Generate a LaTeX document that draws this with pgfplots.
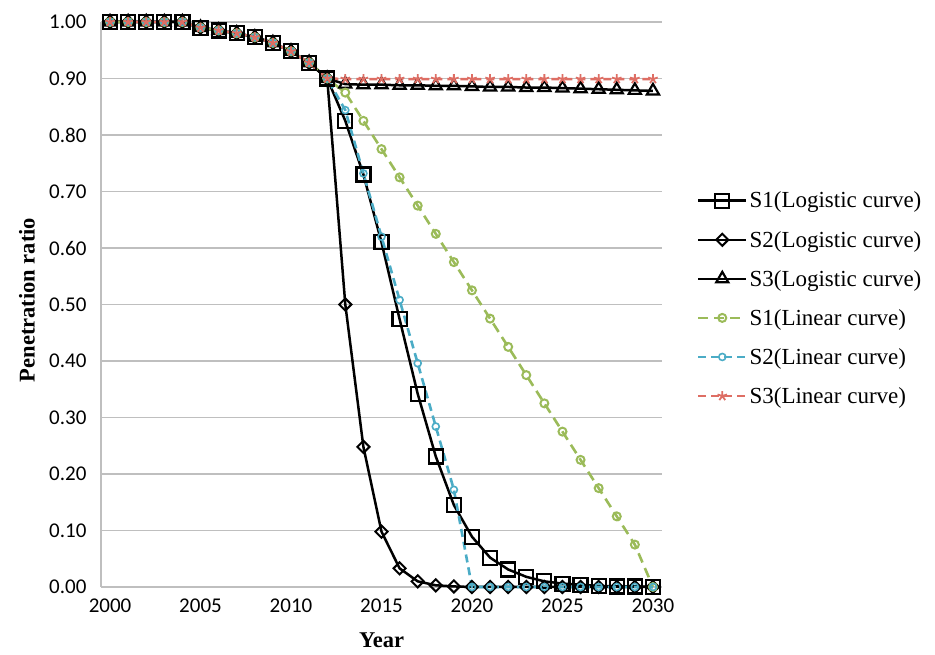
\documentclass[border=0pt]{standalone}
\usepackage{pgfplots}
\pgfplotsset{compat=1.18}
\usepackage{pgfplotstable}
\usepackage{fontspec}
\setmainfont{Liberation Serif}
\newfontfamily\calibri{Carlito}
\definecolor{lgreen}{RGB}{155,187,89}
\definecolor{lblue}{RGB}{75,172,198}
\definecolor{lred}{RGB}{222,110,100}
\definecolor{gridgray}{RGB}{191,191,191}

\pgfplotstableread{
year s1l s2l s3l s1n s2n s3n
2000 1.000 1.000 1.000 1.000 1.000 1.000
2001 1.000 1.000 1.000 1.000 1.000 1.000
2002 1.000 1.000 1.000 1.000 1.000 1.000
2003 1.000 1.000 1.000 1.000 1.000 1.000
2004 1.000 1.000 1.000 1.000 1.000 1.000
2005 0.990 0.990 0.990 0.990 0.990 0.990
2006 0.985 0.985 0.985 0.985 0.985 0.985
2007 0.980 0.980 0.980 0.980 0.980 0.980
2008 0.973 0.973 0.973 0.973 0.973 0.973
2009 0.963 0.963 0.963 0.963 0.963 0.963
2010 0.948 0.948 0.948 0.948 0.948 0.948
2011 0.928 0.928 0.928 0.928 0.928 0.928
2012 0.900 0.900 0.900 0.900 0.900 0.900
2013 0.825 0.500 0.890 0.875 0.844 0.899
2014 0.730 0.248 0.889 0.825 0.732 0.899
2015 0.610 0.098 0.889 0.775 0.620 0.899
2016 0.474 0.033 0.888 0.725 0.508 0.899
2017 0.342 0.010 0.888 0.675 0.396 0.899
2018 0.231 0.003 0.887 0.625 0.284 0.899
2019 0.145 0.001 0.887 0.575 0.172 0.899
2020 0.089 0.000 0.886 0.525 0.000 0.899
2021 0.052 0.000 0.885 0.475 0.000 0.899
2022 0.031 0.000 0.885 0.425 0.000 0.899
2023 0.018 0.000 0.884 0.375 0.000 0.899
2024 0.010 0.000 0.884 0.325 0.000 0.899
2025 0.006 0.000 0.883 0.275 0.000 0.899
2026 0.004 0.000 0.882 0.225 0.000 0.899
2027 0.002 0.000 0.881 0.175 0.000 0.899
2028 0.001 0.000 0.880 0.125 0.000 0.899
2029 0.001 0.000 0.879 0.075 0.000 0.899
2030 0.000 0.000 0.878 0.000 0.000 0.899
}\datatable

\begin{document}
\begin{tikzpicture}
\path[use as bounding box] (0pt,0pt) rectangle (935pt,655pt);
\begin{axis}[
  at={(101pt,68pt)}, anchor=south west,
  scale only axis,
  width=561pt, height=565pt,
  xmin=1999.5, xmax=2030.5,
  ymin=0, ymax=1,
  axis x line*=bottom, axis y line*=left,
  every outer x axis line/.append style={-},
  every outer y axis line/.append style={-},
  axis line style={draw=gridgray, line width=1.8pt, -},
  xtick={2000,2005,...,2030},
  ytick={0,0.1,...,1.0},
  major tick length=0pt,
  ymajorgrids,
  grid style={draw=gridgray, line width=1.8pt},
  /pgf/number format/assume math mode=true,
  xticklabel style={font=\calibri\fontsize{21}{21}\selectfont, /pgf/number format/1000 sep={}, yshift=-8pt},
  yticklabel style={font=\calibri\fontsize{21}{21}\selectfont, /pgf/number format/.cd, fixed, fixed zerofill, precision=2, /tikz/.cd, xshift=-11pt},
  xlabel={Year},
  ylabel={Penetration ratio},
  xlabel style={font=\bfseries\fontsize{22.5}{22.5}\selectfont, at={(rel axis cs:0.5,-0.094)}, anchor=center},
  ylabel style={font=\bfseries\fontsize{22.5}{22.5}\selectfont, at={(rel axis cs:-0.132,0.508)}, anchor=center, rotate=0},
  clip=false,
  legend cell align=left,
  legend style={draw=none, fill=none, at={(1.062,0.703)}, anchor=north west,
    font=\fontsize{23}{23}\selectfont, row sep=17.6pt, inner sep=0pt},
  legend image code/.code={\draw[mark repeat=2,mark phase=2] plot coordinates {(0pt,0pt)(24pt,0pt)(48pt,0pt)};},
]
\addplot[black, line width=2.5pt, mark=square, mark size=7pt, mark options={fill=white, solid, line width=2.2pt}] table[x=year,y=s1l] {\datatable};
\addlegendentry{S1(Logistic curve)}
\addplot[black, line width=2.5pt, mark=square, mark size=4.3pt, mark options={fill=white, solid, line width=2pt, rotate=45}] table[x=year,y=s2l] {\datatable};
\addlegendentry{S2(Logistic curve)}
\addplot[black, line width=2.5pt, mark=triangle, mark size=7pt, mark options={fill=white, solid, line width=2.2pt}] table[x=year,y=s3l] {\datatable};
\addlegendentry{S3(Logistic curve)}
\addplot[lgreen, line width=2.6pt, dash pattern=on 10pt off 6pt, mark=o, mark size=4pt, mark options={fill=white, solid, line width=2pt}] table[x=year,y=s1n] {\datatable};
\addlegendentry{S1(Linear curve)}
\addplot[lblue, line width=2.6pt, dash pattern=on 8pt off 5pt, mark=o, mark size=3.5pt, mark options={fill=white, solid, line width=1.6pt}] table[x=year,y=s2n] {\datatable};
\addlegendentry{S2(Linear curve)}
\addplot[lred, line width=2.6pt, dash pattern=on 8pt off 5pt, mark=star, mark size=5pt, mark options={solid, line width=1.8pt}] table[x=year,y=s3n] {\datatable};
\addlegendentry{S3(Linear curve)}
\end{axis}
\end{tikzpicture}
\end{document}
